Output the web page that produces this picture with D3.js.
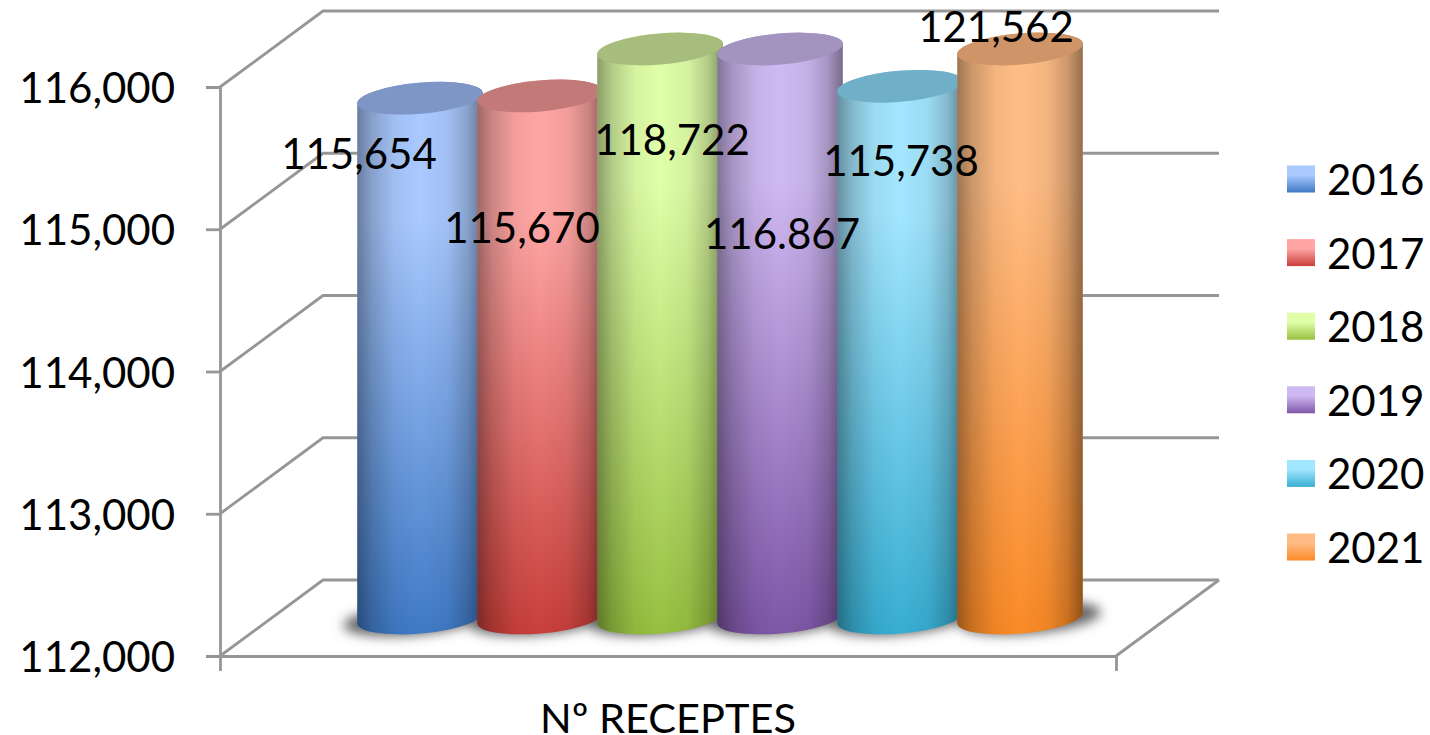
<!DOCTYPE html>
<html><head><meta charset="utf-8">
<script src="https://cdn.jsdelivr.net/npm/d3@7"></script>
<style>html,body{margin:0;padding:0;background:#fff}svg{display:block}text{font-family:Lato,"Noto Sans",sans-serif;fill:#000}</style>
</head><body><script>
const years = ["2016","2017","2018","2019","2020","2021"];
const values = [115654,115670,118722,116867,115738,121562];
const valueLabels = ["115,654","115,670","118,722","116.867","115,738","121,562"];
const category = ["Nº RECEPTES"];
const yTicks = [112000,113000,114000,115000,116000];
const topColors = ["#7d96c6","#c27a78","#a6bd7e","#a394bf","#6fb0c8","#cf9468"];
const lightColors = ["#a9c9ff","#ffa6a4","#e0ffa8","#cfb9f2","#a3e6ff","#ffbd85"];
const baseColors = ["#3f7ac6","#c93f3b","#97c040","#7f57a8","#37aed2","#fb8a26"];

const W=1430,H=735,FS=42;
const depth={x:103,y:-76};
const front={l:220,r:1116,top:87,bottom:656};
const svg=d3.select("body").append("svg").attr("width",W).attr("height",H);
const defs=svg.append("defs");
const y=d3.scaleLinear().domain([112000,116000]).range([front.bottom,front.top]);
const barY=d3.scaleLinear().domain([112000,116000]).range([618,49]).clamp(true);
const xCat=d3.scaleBand().domain(category).range([front.l,front.r]);
const x=d3.scaleBand().domain(years).range([360,1080]);
const GREY="#969696";

// walls
const wall=svg.append("g").attr("fill","none").attr("stroke",GREY).attr("stroke-width",2.8);
yTicks.forEach(t=>{
  const p=d3.path();const v=y(t);
  p.moveTo(front.l,v);p.lineTo(front.l+depth.x,v+depth.y);p.lineTo(front.r+depth.x,v+depth.y);
  wall.append("path").attr("d",p.toString());
});
const floor=d3.path();
floor.moveTo(front.r,front.bottom);floor.lineTo(front.r+depth.x,front.bottom+depth.y);
wall.append("path").attr("d",floor.toString());

// axes
const ax=svg.append("g").attr("transform",`translate(${front.l},0)`)
  .call(d3.axisLeft(y).tickValues(yTicks).tickFormat(d3.format(",")).tickSize(14).tickPadding(31));
const bx=svg.append("g").attr("transform",`translate(0,${front.bottom})`)
  .call(d3.axisBottom(xCat).tickSizeInner(0).tickSizeOuter(15).tickPadding(48));
[ax,bx].forEach(g=>{g.selectAll("path,line").attr("stroke",GREY).attr("stroke-width",2.8);
  g.selectAll("text").attr("font-size",FS).attr("font-family",'Lato,"Noto Sans",sans-serif').attr("fill","#000");});
ax.selectAll("text").attr("dy","0.37em");
bx.selectAll("text").attr("font-size",41.5);

// gradients
defs.append("filter").attr("id","blur").attr("x","-30%").attr("y","-100%").attr("width","160%").attr("height","300%")
  .append("feGaussianBlur").attr("stdDeviation",6);
const shade=defs.append("linearGradient").attr("id","shade");
[[0,.38],[.12,.2],[.3,.05],[.5,0],[.72,.05],[.88,.2],[1,.42]].forEach(([o,a])=>
  shade.append("stop").attr("offset",o).attr("stop-color","#000").attr("stop-opacity",a));
years.forEach((d,i)=>{
  const g=defs.append("linearGradient").attr("id","body"+i).attr("x1",0).attr("x2",0).attr("y1",0).attr("y2",1);
  g.append("stop").attr("offset",0).attr("stop-color",lightColors[i]);
  g.append("stop").attr("offset",.25).attr("stop-color",lightColors[i]);
  g.append("stop").attr("offset",1).attr("stop-color",baseColors[i]);
  const l=defs.append("linearGradient").attr("id","leg"+i).attr("x1",0).attr("x2",0).attr("y1",0).attr("y2",1);
  l.append("stop").attr("offset",0).attr("stop-color",lightColors[i]);
  l.append("stop").attr("offset",.35).attr("stop-color",lightColors[i]);
  l.append("stop").attr("offset",1).attr("stop-color",baseColors[i]);
});

// cylinders
const TILT=-5;
const rx=x.bandwidth()*0.525, ry=15.5, tilt=TILT*Math.PI/180;
const dx=rx*Math.cos(tilt), dy=rx*Math.sin(tilt);
const cylPath=(cx,ty,by)=>`M${cx-dx},${ty-dy}L${cx-dx},${by-dy}A${rx},${ry} ${TILT} 0 0 ${cx+dx},${by+dy}L${cx+dx},${ty+dy}A${rx},${ry} ${TILT} 0 0 ${cx-dx},${ty-dy}Z`;
const center=d=>x(d)+x.bandwidth()/2;
const shadows=svg.append("g").attr("filter","url(#blur)");
years.forEach(d=>{
  shadows.append("ellipse").attr("cx",center(d)+(d==="2016"?-6:d==="2021"?10:0)).attr("cy",barY(112000)+1)
    .attr("rx",rx+8).attr("ry",ry).attr("fill","#666")
    .attr("transform",`rotate(${TILT} ${center(d)} ${barY(112000)})`);
});
years.forEach((d,i)=>{
  const cx=center(d),ty=barY(values[i]),by=barY(112000);
  const g=svg.append("g");
  const p=cylPath(cx,ty,by);
  g.append("path").attr("d",p).attr("fill",`url(#body${i})`);
  g.append("path").attr("d",p).attr("fill","url(#shade)");
  g.append("ellipse").attr("cx",cx).attr("cy",ty).attr("rx",rx).attr("ry",ry)
    .attr("fill",topColors[i]).attr("transform",`rotate(${TILT} ${cx} ${ty})`);
});

// hand-placed data labels, as offsets from the bar's centre and top
const labelOffset=[[-61,55],[-18,131],[12,90],[2,184],[1,74],[-24,-23]];
years.forEach((d,i)=>{
  svg.append("text").attr("x",center(d)+labelOffset[i][0]).attr("y",barY(values[i])+labelOffset[i][1])
    .attr("text-anchor","middle").attr("dominant-baseline","central").attr("font-size",FS).text(valueLabels[i]);
});

// legend
const leg=d3.scalePoint().domain(years).range([179,547]);
years.forEach((d,i)=>{
  svg.append("rect").attr("x",1287).attr("y",leg(d)-13.5).attr("width",28).attr("height",27).attr("fill",`url(#leg${i})`);
  svg.append("text").attr("x",1327).attr("y",leg(d)).attr("dominant-baseline","central").attr("font-size",FS).text(d);
});
</script></body></html>
